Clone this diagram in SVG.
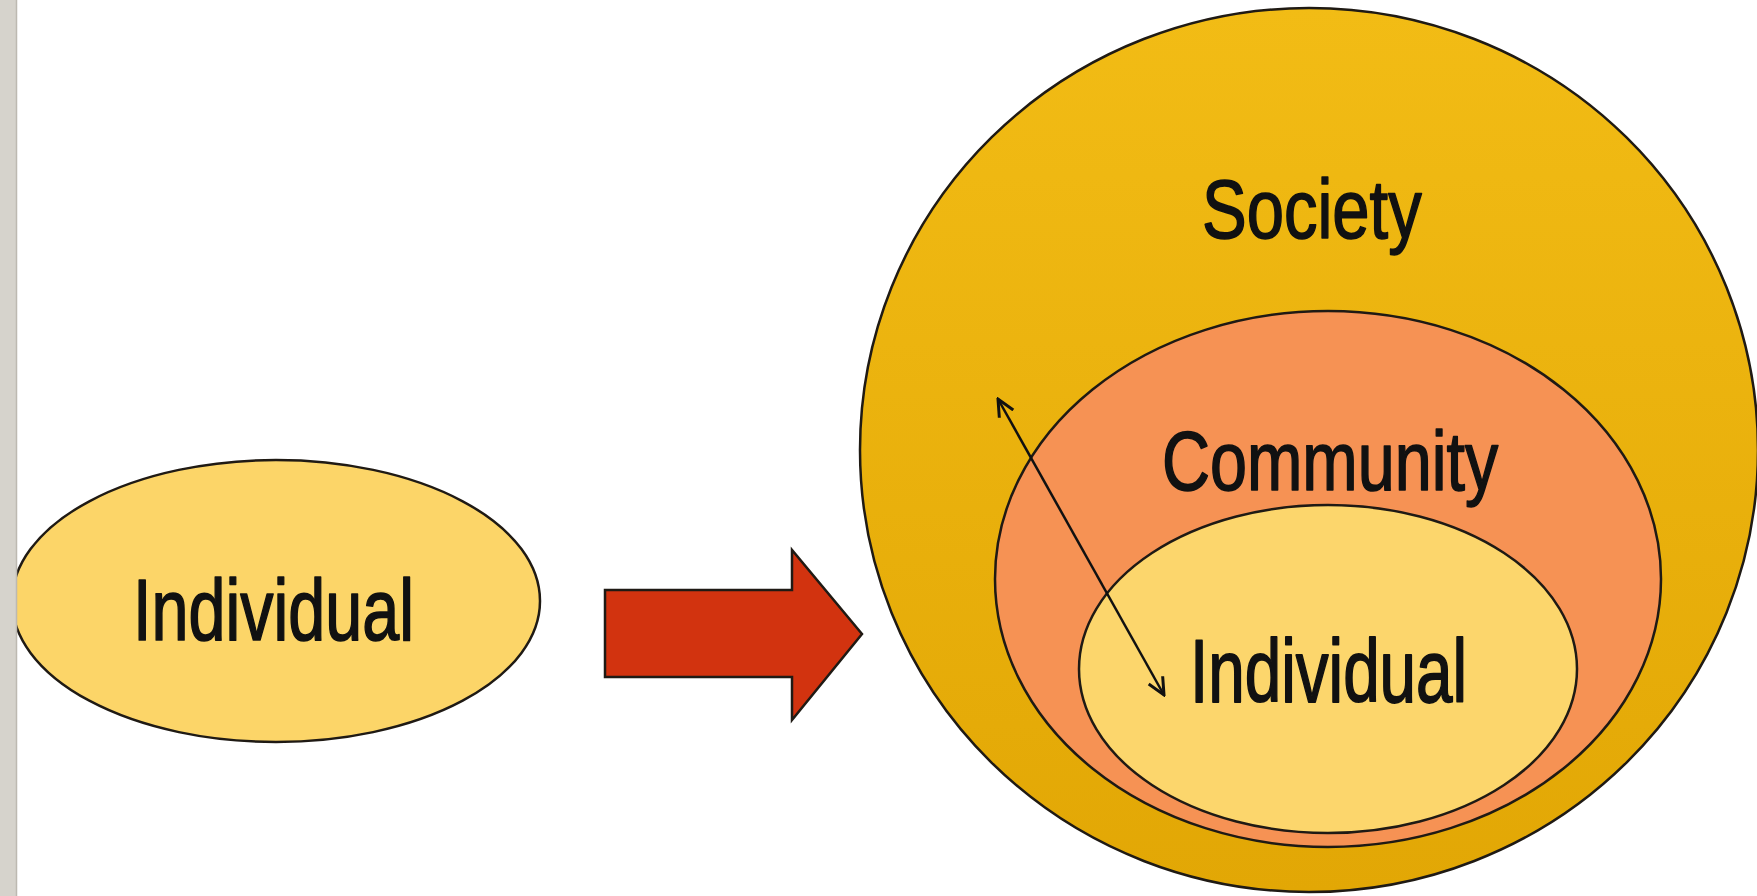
<svg xmlns="http://www.w3.org/2000/svg" width="1757" height="896" viewBox="0 0 1757 896">
  <style>
    .shape { stroke: #1f1a14; stroke-width: 2.5; }
    .label { font-family: "Liberation Sans", Arial, sans-serif; fill: #111; stroke: #111; stroke-width: 1.3; stroke-linejoin: round; }
    .conn { stroke: #111; stroke-width: 2.5; fill: none; }
  </style>
  <defs>
    <linearGradient id="gSociety" x1="0" y1="0" x2="0" y2="1">
      <stop offset="0" stop-color="#f2bc15"/>
      <stop offset="1" stop-color="#e2a705"/>
    </linearGradient>
    <marker id="openHead" viewBox="0 0 20 20" refX="18" refY="10" markerWidth="20" markerHeight="20" markerUnits="userSpaceOnUse" orient="auto-start-reverse">
      <path d="M1,2 L18,10 L1,18" fill="none" stroke="#111" stroke-width="3"/>
    </marker>
  </defs>
  <rect x="0" y="0" width="1757" height="896" fill="#ffffff"/>

  <g id="individual-left">
    <ellipse class="shape" cx="276" cy="601" rx="264" ry="141" fill="#fcd568"/>
    <text class="label" transform="translate(133 640) scale(1 1.32)" x="0" y="0" font-size="66.5">Individual</text>
  </g>

  <g id="transition-arrow">
    <polygon class="shape" points="605,590 792,590 792,550 862,634 792,720 792,677 605,677" fill="#d2330f" stroke-linejoin="miter"/>
  </g>

  <g id="society">
    <ellipse class="shape" cx="1309" cy="450" rx="449" ry="442" fill="url(#gSociety)"/>
    <text class="label" transform="translate(1202 238) scale(1 1.25)" x="0" y="0" font-size="67">Society</text>
  </g>

  <g id="community">
    <ellipse class="shape" cx="1328" cy="579" rx="333" ry="268" fill="#f69254"/>
    <text class="label" transform="translate(1162 490) scale(1 1.26)" x="0" y="0" font-size="66.5">Community</text>
  </g>

  <g id="individual-inner">
    <ellipse class="shape" cx="1328" cy="669" rx="249" ry="164" fill="#fcd66c"/>
    <text class="label" transform="translate(1190 702) scale(1 1.36)" x="0" y="0" font-size="65.6">Individual</text>
  </g>

  <g id="connectors">
    <line class="conn" x1="998" y1="399" x2="1164" y2="695" marker-start="url(#openHead)" marker-end="url(#openHead)"/>
  </g>

  <g id="frame">
    <rect x="0" y="0" width="16" height="896" fill="#d6d3cc"/>
    <line x1="16.5" y1="0" x2="16.5" y2="896" stroke="#bdb9b1" stroke-width="1.5"/>
  </g>
</svg>
